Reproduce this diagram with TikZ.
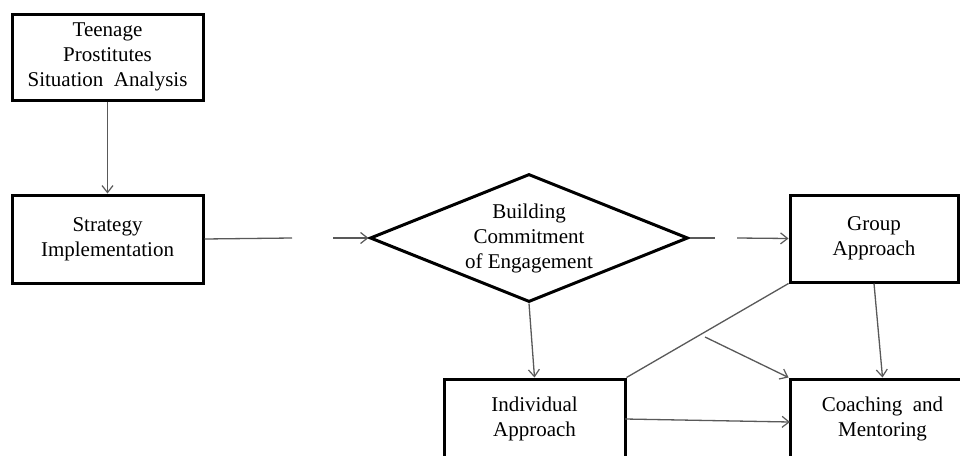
\documentclass[tikz,border=0pt]{standalone}
\usepackage{fontspec}
\setmainfont{Liberation Serif}
\usetikzlibrary{shapes.geometric,arrows.meta,calc}
\begin{document}
\begin{tikzpicture}[x=1pt,y=-1pt,
  txt/.style={align=center,inner sep=0pt,font=\fontsize{21}{25}\selectfont},
  box/.style={txt,draw=black,line width=3pt},
  dia/.style={draw=black,line width=3pt,diamond,inner sep=0pt,
    minimum width=318pt,minimum height=128pt},
  conn/.style={draw=black!65,line width=1.3pt},
  arr/.style={conn,-{Straight Barb[length=7pt,width=11pt,line width=1.2pt]}}]
\clip (0,0) rectangle (960,455);
\fill[white] (0,0) rectangle (960,455);
\node[box,minimum width=191pt,minimum height=86pt] (tp) at (107.5,57) {Teenage\\Prostitutes\\Situation~ Analysis};
\node[box,minimum width=191pt,minimum height=88pt] (si) at (107.5,239) {Strategy\\Implementation};
\node[dia] (bc) at (529,238) {};
\node[txt] (bct) at (529,238) {Building\\Commitment\\of Engagement};
\node[box,minimum width=168pt,minimum height=87pt] (ga) at (874,238.5) {Group\\Approach};
\node[box,minimum width=181pt,minimum height=80pt] (ia) at (534.5,419) {Individual\\Approach};
\node[box,minimum width=185pt,minimum height=80pt] (cm) at (882.5,419) {Coaching~ and\\Mentoring};
\coordinate (g1a) at (292,238);
\coordinate (g1b) at (333,238);
\coordinate (g2a) at (715,238);
\coordinate (g2b) at (737,238);
\coordinate (mid) at (705,337);
\coordinate (iae) at (625,419);
\coordinate (cmw) at (790,422);
\draw[arr] (tp.south) -- (si.north);
\draw[conn] (si.east) -- (g1a);
\draw[arr] (g1b) -- (bc.west);
\draw[conn] (bc.east) -- (g2a);
\draw[arr] (g2b) -- (ga.west);
\draw[arr] (bc.south) -- (ia.north);
\draw[arr] (ga.south) -- (cm.north);
\draw[conn] (ia.north east) -- (ga.south west);
\draw[arr] (mid) -- (cm.north west);
\draw[arr] (iae) -- (cmw);
\end{tikzpicture}
\end{document}
